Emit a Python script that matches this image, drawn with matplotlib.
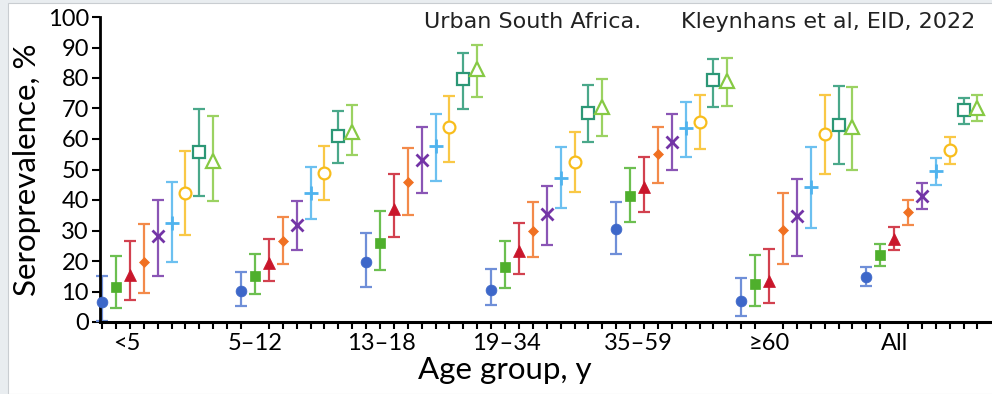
import matplotlib
matplotlib.use("Agg")
import matplotlib.pyplot as plt
from matplotlib.patches import Rectangle
import numpy as np

groups = ["<5", "5\u201312", "13\u201318", "19\u201334", "35\u201359", "\u226560", "All"]
group_start = [0, 10, 19, 28, 37, 46, 55]
label_pos = [1.8, 11, 20.1, 29.1, 38.6, 48, 57]

# series (9 per group): value, lower, upper
values = [
    [6.4, 11.6, 15.3, 19.8, 28.3, 32.3, 42.2, 55.8, 52.9],
    [10.2, 15.2, 19.2, 26.7, 31.7, 42.2, 48.9, 61.0, 62.4],
    [19.6, 25.9, 37.0, 45.9, 53.0, 57.6, 63.8, 79.6, 83.1],
    [10.6, 18.1, 23.4, 29.9, 35.3, 47.3, 52.6, 68.6, 70.4],
    [30.6, 41.2, 44.4, 55.0, 58.9, 63.5, 65.7, 79.2, 79.1],
    [6.9, 12.4, 13.4, 30.2, 34.9, 44.2, 61.6, 64.7, 63.8],
    [14.7, 22.0, 27.3, 36.1, 41.3, 49.4, 56.4, 69.5, 70.2],
]
lower = [
    [0.3, 4.5, 7.1, 9.6, 15.1, 19.6, 28.6, 41.3, 39.6],
    [5.3, 9.3, 13.4, 19.1, 23.7, 33.7, 40.0, 52.1, 54.6],
    [11.6, 17.0, 27.9, 35.2, 42.2, 46.3, 52.5, 69.8, 73.7],
    [5.5, 11.2, 15.8, 21.4, 25.2, 37.4, 42.5, 59.0, 61.0],
    [22.2, 32.7, 36.2, 45.7, 49.7, 54.2, 56.7, 70.5, 70.7],
    [2.0, 5.2, 6.1, 19.0, 21.6, 30.9, 48.4, 51.7, 49.7],
    [11.8, 18.5, 23.6, 31.7, 37.0, 44.9, 51.8, 65.0, 65.9],
]
upper = [
    [15.0, 21.6, 26.7, 32.0, 40.0, 45.9, 56.2, 69.9, 67.6],
    [16.3, 22.3, 27.3, 34.5, 39.6, 50.7, 57.7, 69.2, 71.2],
    [29.2, 36.5, 48.4, 57.0, 64.0, 68.2, 74.1, 88.1, 90.9],
    [17.4, 26.5, 32.4, 39.3, 44.6, 57.5, 62.2, 77.6, 79.6],
    [39.4, 50.6, 54.2, 64.0, 68.2, 72.0, 74.3, 86.2, 86.6],
    [14.4, 22.1, 23.8, 42.2, 46.8, 57.3, 74.3, 77.3, 77.0],
    [17.9, 25.6, 31.2, 39.9, 45.7, 53.8, 60.6, 73.3, 74.5],
]

colors = ["#3d67c9", "#4faf2c", "#c9162b", "#f07022", "#7334a6",
          "#4fb3ee", "#f8bd1c", "#2c9776", "#86c944"]
bar_colors = ["#6f8fd8", "#6cbf50", "#d2414f", "#f38a4a", "#8a55b5",
              "#6cc0f0", "#f9c846", "#4aa88a", "#9bd262"]
markers = ["o", "s", "^", "D", "x", "+", "o", "s", "^"]
filled = [True, True, True, True, True, True, False, False, False]
msizes = [7.8, 7.2, 8.2, 5.5, 9, 10, 8.5, 8.5, 9.5]

fig = plt.figure(figsize=(9.92, 3.94), dpi=100)
fig.patch.set_facecolor("#e9edf0")
fig.patches.append(Rectangle((8/992, 0), 1, 1 - 3/394, transform=fig.transFigure,
                             facecolor="white", edgecolor="#c9cdd1", linewidth=0.8, zorder=-10))

ax = fig.add_axes([100/992, 1 - 322/394, 890/992, 305/394])
ax.set_facecolor("none")
ax.set_zorder(5)

values = np.array(values)
lower = np.array(lower)
upper = np.array(upper)
for s in range(9):
    xs = np.array(group_start) + s
    v = values[:, s]
    yerr = np.vstack([v - lower[:, s], upper[:, s] - v])
    ax.errorbar(xs, v, yerr=yerr, fmt="none", ecolor=bar_colors[s], elinewidth=1.6,
                capsize=4.5, capthick=1.6, zorder=2, clip_on=False)
    if filled[s]:
        ax.plot(xs, v, linestyle="none", marker=markers[s], color=colors[s],
                markersize=msizes[s], markeredgewidth=2.0 if markers[s] in ("x", "+") else 0.5,
                zorder=3, clip_on=False)
    else:
        ax.plot(xs, v, linestyle="none", marker=markers[s], markerfacecolor="white",
                markeredgecolor=colors[s], markersize=msizes[s], markeredgewidth=1.6,
                zorder=3, clip_on=False)

ax.set_xlim(-0.15, 63.9)
ax.set_ylim(0, 100)
ax.spines["top"].set_visible(False)
ax.spines["right"].set_visible(False)
ax.spines["left"].set_linewidth(2)
ax.spines["bottom"].set_linewidth(2.2)

ax.set_yticks(np.arange(0, 101, 10))
ax.tick_params(axis="y", direction="out", length=6, width=1.5, labelsize=17, pad=2)
for lab in ax.get_yticklabels():
    lab.set_fontfamily("Lato")

ax.set_xticks(label_pos)
ax.set_xticklabels(groups, fontfamily="Lato", fontsize=17)
ax.set_xticks(np.arange(0, 64), minor=True)
ax.tick_params(axis="x", which="major", length=0, pad=8)
ax.tick_params(axis="x", which="minor", direction="out", length=5, width=1.5)

ax.set_ylabel("Seroprevalence, %", fontfamily="Lato", fontsize=22.5)
ax.yaxis.set_label_coords(-0.066, 0.5)
ax.set_xlabel("Age group, y", fontfamily="Lato", fontsize=22.5)
ax.xaxis.set_label_coords(0.455, -0.112)

fig.text(424/992, 1 - 22/394, "Urban South Africa.", fontfamily="DejaVu Sans",
         fontsize=16, color="#222222", va="center", ha="left")
fig.text(975/992, 1 - 22/394, "Kleynhans et al, EID, 2022", fontfamily="DejaVu Sans",
         fontsize=16, color="#222222", va="center", ha="right")

fig.savefig("out.png", dpi=100, facecolor=fig.get_facecolor())
